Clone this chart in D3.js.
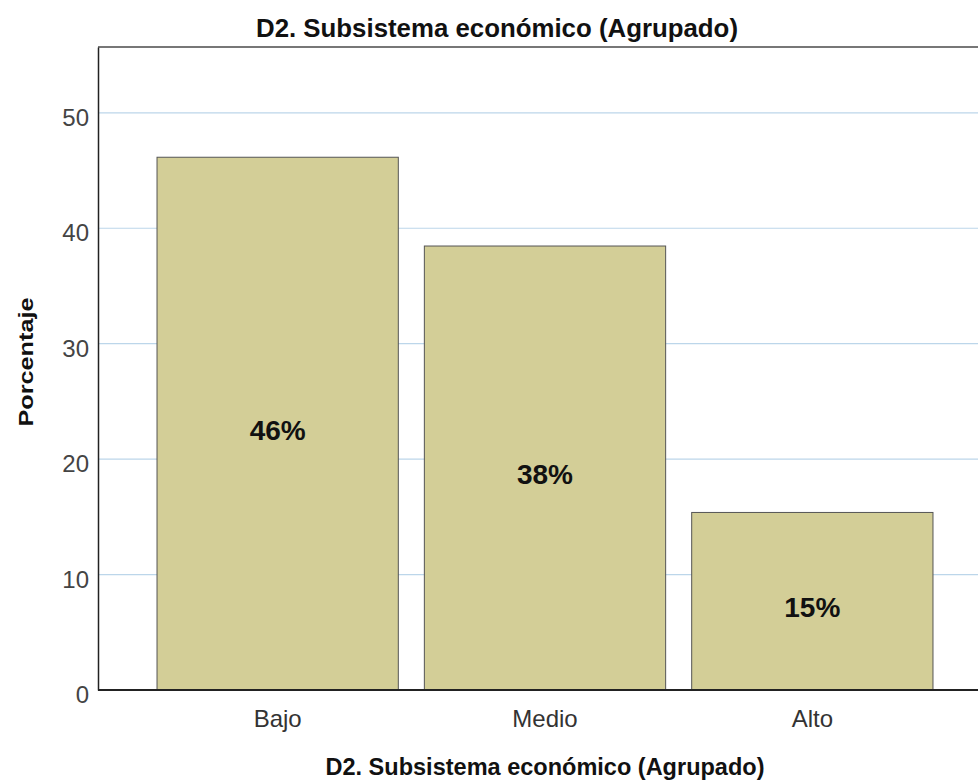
<!DOCTYPE html>
<html>
<head>
<meta charset="utf-8">
<script src="https://cdn.jsdelivr.net/npm/d3@7"></script>
<style>
  body { margin: 0; background: #fff; }
  svg { display: block; font-family: "Liberation Sans", Arial, sans-serif; }
</style>
</head>
<body>
<div id="chart"></div>
<script>
var categories = ["Bajo", "Medio", "Alto"];
var percents = [46.15, 38.46, 15.38];
var barLabels = ["46%", "38%", "15%"];
var yTicks = [0, 10, 20, 30, 40, 50];

var svgWidth = 978;
var svgHeight = 780;

var plot = { left: 98, top: 47, right: 992, bottom: 690 };

var svg = d3.select("#chart")
  .append("svg")
  .attr("width", svgWidth)
  .attr("height", svgHeight);

var xScale = d3.scaleBand()
  .domain(categories)
  .range([144, 946])
  .paddingInner(0.0974)
  .paddingOuter(0.0487);

var yScale = d3.scaleLinear()
  .domain([0, 55.7])
  .range([plot.bottom, plot.top]);

// gridlines
svg.append("g")
  .selectAll("line")
  .data(yTicks.filter(d => d > 0))
  .enter()
  .append("line")
  .attr("x1", plot.left)
  .attr("x2", plot.right)
  .attr("y1", d => yScale(d))
  .attr("y2", d => yScale(d))
  .attr("stroke", "#bcd6ea")
  .attr("stroke-width", 1.2);

// top frame line
svg.append("line")
  .attr("x1", plot.left)
  .attr("x2", plot.right)
  .attr("y1", plot.top)
  .attr("y2", plot.top)
  .attr("stroke", "#777")
  .attr("stroke-width", 2);

// bars
svg.append("g")
  .selectAll("rect")
  .data(percents)
  .enter()
  .append("rect")
  .attr("x", (d, i) => xScale(categories[i]))
  .attr("y", d => yScale(d))
  .attr("width", xScale.bandwidth())
  .attr("height", d => plot.bottom - yScale(d))
  .attr("fill", "#d3ce97")
  .attr("stroke", "#555")
  .attr("stroke-width", 1);

// bar labels
svg.append("g")
  .selectAll("text")
  .data(percents)
  .enter()
  .append("text")
  .attr("x", (d, i) => xScale(categories[i]) + xScale.bandwidth() / 2)
  .attr("y", d => (yScale(d) + plot.bottom) / 2 + 16)
  .attr("text-anchor", "middle")
  .style("font-size", "28px")
  .style("font-weight", "bold")
  .style("fill", "#111")
  .text((d, i) => barLabels[i]);

// y axis
var leftAxis = d3.axisLeft(yScale)
  .tickValues(yTicks)
  .tickSize(0)
  .tickPadding(9);

var yAxis = svg.append("g")
  .attr("transform", `translate(${plot.left}, 0)`)
  .call(leftAxis);
yAxis.select(".domain")
  .attr("stroke", "#222")
  .attr("stroke-width", 1.5);
yAxis.selectAll("text")
  .style("font-size", "24px")
  .style("font-family", "Liberation Sans, Arial, sans-serif")
  .style("fill", "#444")
  .attr("dy", "0.52em");

// x axis
var bottomAxis = d3.axisBottom(xScale)
  .tickSize(0)
  .tickPadding(20);

var xAxis = svg.append("g")
  .attr("transform", `translate(0, ${plot.bottom})`)
  .call(bottomAxis);
xAxis.select(".domain").remove();
xAxis.append("line")
  .attr("x1", plot.left)
  .attr("x2", plot.right)
  .attr("stroke", "#222")
  .attr("stroke-width", 2);
xAxis.selectAll("text")
  .style("font-size", "24px")
  .style("font-family", "Liberation Sans, Arial, sans-serif")
  .style("fill", "#333");

// titles
svg.append("text")
  .attr("x", 497)
  .attr("y", 37)
  .attr("text-anchor", "middle")
  .attr("textLength", 482)
  .attr("lengthAdjust", "spacingAndGlyphs")
  .style("font-size", "25px")
  .style("font-weight", "bold")
  .style("fill", "#111")
  .text("D2. Subsistema económico (Agrupado)");

svg.append("text")
  .attr("x", 545)
  .attr("y", 775)
  .attr("text-anchor", "middle")
  .attr("textLength", 439)
  .attr("lengthAdjust", "spacingAndGlyphs")
  .style("font-size", "23px")
  .style("font-weight", "bold")
  .style("fill", "#111")
  .text("D2. Subsistema económico (Agrupado)");

svg.append("text")
  .attr("transform", "translate(33, 362) rotate(-90)")
  .attr("text-anchor", "middle")
  .attr("textLength", 129)
  .attr("lengthAdjust", "spacingAndGlyphs")
  .style("font-size", "21px")
  .style("font-weight", "bold")
  .style("fill", "#111")
  .text("Porcentaje");
</script>
</body>
</html>
